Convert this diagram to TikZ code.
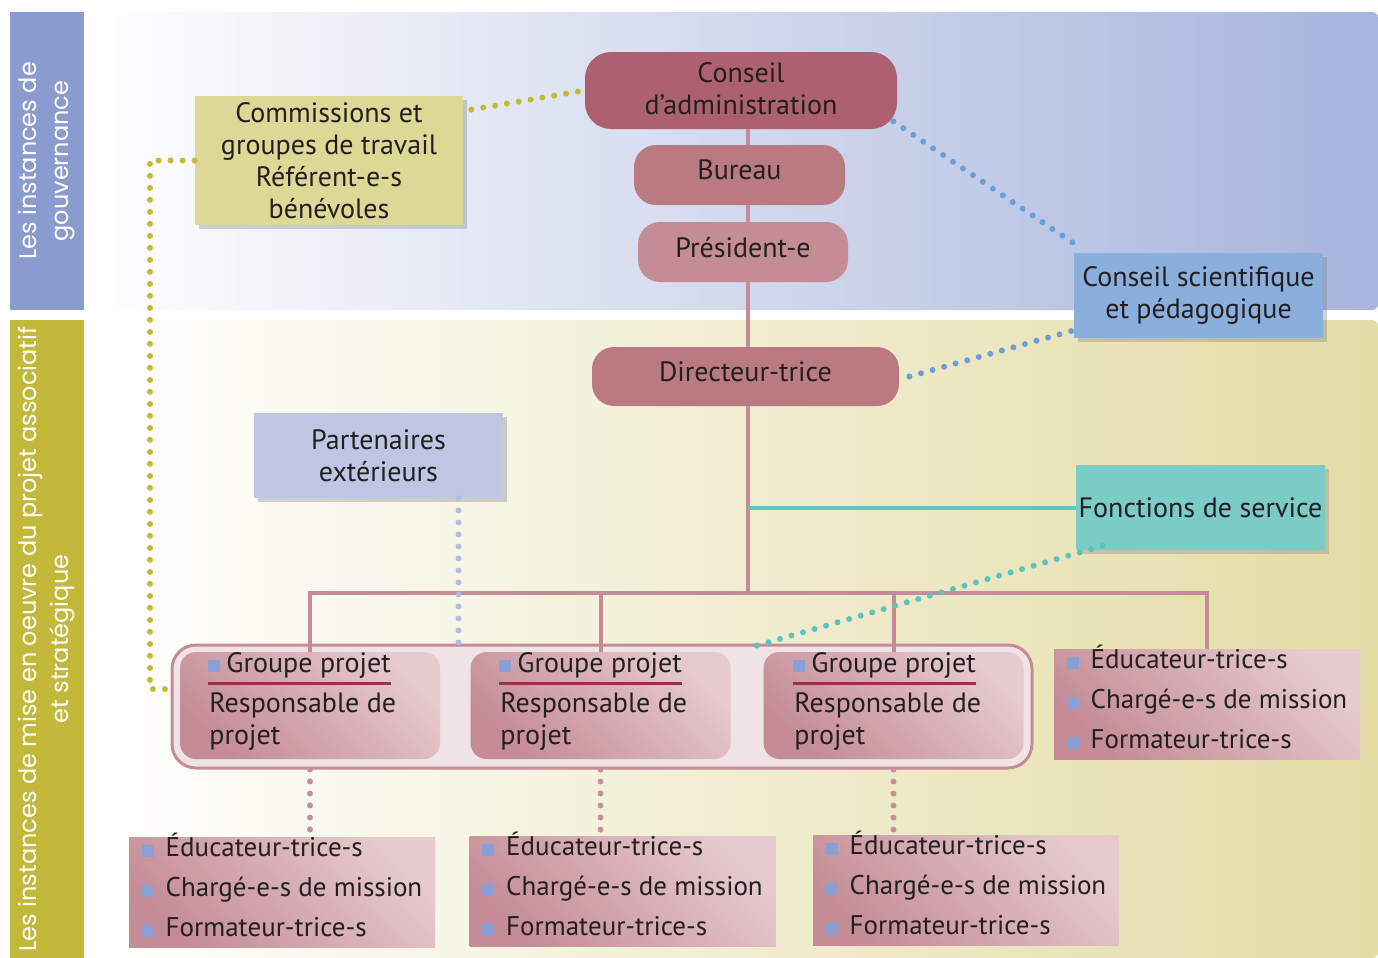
\documentclass[tikz,border=0pt]{standalone}
\usepackage{fontspec}
\setmainfont{PT Sans}
\newfontfamily\bandfont{Poppins}
\usetikzlibrary{shadows}

\definecolor{bandblue}{HTML}{8A9BCF}
\definecolor{bandolive}{HTML}{C4B83B}
\definecolor{topright}{HTML}{A7B4DC}
\definecolor{botright}{HTML}{E3DCA5}
\definecolor{cadmin}{HTML}{AD6170}
\definecolor{bureau}{HTML}{B97B81}
\definecolor{presid}{HTML}{C48C93}
\definecolor{trunk}{HTML}{C48C96}
\definecolor{commfill}{HTML}{DED897}
\definecolor{csfill}{HTML}{8AAFDC}
\definecolor{partfill}{HTML}{BEC6E4}
\definecolor{fsfill}{HTML}{7BCBC6}
\definecolor{tealline}{HTML}{5CC7BF}
\definecolor{dotolive}{HTML}{C5B933}
\definecolor{dotblue}{HTML}{6A9FD8}
\definecolor{dotteal}{HTML}{5CC4BC}
\definecolor{dotlight}{HTML}{B3BDE3}
\definecolor{dotpink}{HTML}{C98F99}
\definecolor{contfill}{HTML}{F0E3E5}
\definecolor{pinkdark}{HTML}{C48C97}
\definecolor{pinklight}{HTML}{E6CACE}
\definecolor{rulered}{HTML}{9B2F4E}
\definecolor{bulletblue}{HTML}{8A9FD4}
\definecolor{ink}{HTML}{231F20}

\newcommand{\bulsq}{\textcolor{bulletblue}{\rule{6pt}{6pt}}}
\newcommand{\bul}{\bulsq\hspace{6pt}}

\begin{document}
\begin{tikzpicture}[x=0.5pt, y=-0.5pt,
    font=\fontsize{14}{16}\selectfont, text=ink,
    band/.style={rotate=90, align=center, text=white, font=\bandfont\fontsize{12}{16}\selectfont},
    orgbox/.style={rounded corners=11pt, align=center, inner sep=0pt, text depth=5pt},
    sidebox/.style={align=center, inner sep=0pt, minimum width=124.5pt, minimum height=42.5pt,
        drop shadow={shadow xshift=2pt, shadow yshift=-2pt, opacity=0.35}},
    grp/.style={rounded corners=8pt, minimum width=130pt, minimum height=53.5pt, inner sep=0pt,
        bottom color=pinkdark, top color=pinklight, shading angle=-45},
    liste/.style={minimum width=153pt, minimum height=55pt, inner xsep=0pt, inner ysep=-3pt,
        align=left, text depth=7pt, font=\fontsize{13.5}{20}\selectfont,
        bottom color=pinkdark, top color=pinklight, shading angle=-45},
    grphead/.style={anchor=base west, inner xsep=0pt, inner ysep=2.5pt},
    grptext/.style={anchor=north west, inner sep=0pt, align=left},
    trunkline/.style={draw=trunk, line width=2pt},
    dots/.style={line width=3pt, line cap=round, dash pattern=on 0pt off 6pt}
]
    \useasboundingbox (0,0) rectangle (1378,958);

    % Background bands and panels
    \fill[bandblue] (10,12) rectangle (84,310);
    \fill[bandolive] (10,320) rectangle (84,958);
    \shade[left color=white, right color=topright, rounded corners=3pt] (90,12) rectangle (1378,310);
    \shade[left color=white, right color=botright, rounded corners=3pt] (90,320) rectangle (1378,958);
    \node[band] (gouv) at (47,161) {Les instances de\\gouvernance};
    \node[band] (mise) at (47,639) {Les instances de mise en oeuvre du projet associatif\\et stratégique};

    % Governance
    \node[orgbox, fill=cadmin, minimum width=156pt, minimum height=38.5pt, rounded corners=13pt, text depth=2pt] (ca) at (741,90.5) {Conseil\\d’administration};
    \node[orgbox, fill=bureau, minimum width=105.5pt, minimum height=30pt] (bur) at (739.5,175) {Bureau};
    \node[orgbox, fill=presid, minimum width=105pt, minimum height=30pt] (pres) at (743,252) {Président-e};
    \node[orgbox, fill=bureau, minimum width=153.5pt, minimum height=29.5pt] (dir) at (745.5,376.5) {Directeur-trice};

    % Side boxes
    \node[sidebox, fill=commfill, minimum width=134pt, minimum height=64.5pt] (comm) at (329,160.5) {Commissions et\\groupes de travail\\Référent-e-s\\bénévoles};
    \node[sidebox, fill=csfill] (cs) at (1198.5,295.5) {Conseil scientifique\\et pédagogique};
    \node[sidebox, fill=partfill] (part) at (378.5,455.5) {Partenaires\\extérieurs};
    \node[sidebox, fill=fsfill] (fs) at (1200.5,507.5) {Fonctions de service};

    % Project groups
    \node[draw=trunk, line width=1.5pt, fill=contfill, rounded corners=12pt, minimum width=430pt, minimum height=61.5pt] (cont) at (602,706.5) {};
    \node[grp] (g1) at (310,705.5) {};
    \node[grp] (g2) at (600.5,705.5) {};
    \node[grp] (g3) at (893.5,705.5) {};
    \node[grphead] (g1h) at (208,672) {\bulsq\hspace{3pt}Groupe projet};
    \node[grphead] (g2h) at (499,672) {\bulsq\hspace{3pt}Groupe projet};
    \node[grphead] (g3h) at (793,672) {\bulsq\hspace{3pt}Groupe projet};
    \draw[rulered, line width=1.2pt] (g1h.south west) -- (g1h.south east);
    \draw[rulered, line width=1.2pt] (g2h.south west) -- (g2h.south east);
    \draw[rulered, line width=1.2pt] (g3h.south west) -- (g3h.south east);
    \node[grptext] (g1t) at (209,692) {Responsable de\\projet};
    \node[grptext] (g2t) at (500,692) {Responsable de\\projet};
    \node[grptext] (g3t) at (794,692) {Responsable de\\projet};

    % Staff lists
    \node[liste] (lr) at (1207,704) {\bul Éducateur-trice-s\\\bul Chargé-e-s de mission\\\bul Formateur-trice-s};
    \node[liste] (l1) at (282,892) {\bul Éducateur-trice-s\\\bul Chargé-e-s de mission\\\bul Formateur-trice-s};
    \node[liste] (l2) at (622.5,891) {\bul Éducateur-trice-s\\\bul Chargé-e-s de mission\\\bul Formateur-trice-s};
    \node[liste] (l3) at (966,890) {\bul Éducateur-trice-s\\\bul Chargé-e-s de mission\\\bul Formateur-trice-s};

    % Hierarchy lines
    \coordinate (bar) at (748,593);
    \draw[trunkline] (ca.south -| bar) -- (bur.north -| bar);
    \draw[trunkline] (bur.south -| bar) -- (pres.north -| bar);
    \draw[trunkline] (pres.south -| bar) -- (dir.north -| bar);
    \draw[trunkline] (dir.south -| bar) -- (bar);
    \draw[trunkline] (g1.north) |- (lr.north |- bar) -- (lr.north);
    \draw[trunkline] (g2.north) -- (g2.north |- bar);
    \draw[trunkline] (g3.north) -- (g3.north |- bar);
    \draw[tealline, line width=2pt] (fs.west -| bar) -- (fs.west);

    % Dotted links
    \coordinate (olc) at (150,689);
    \draw[dots, dotolive] (comm.west) -| (olc) -- ([yshift=8.75pt]cont.west);
    \draw[dots, dotolive] ([xshift=4pt,yshift=-7pt]comm.north east) -- (ca.west);
    \draw[dots, dotblue] ([xshift=-2pt,yshift=4pt]ca.south east) -- ([xshift=4pt,yshift=2pt]cs.north west);
    \draw[dots, dotblue] ([xshift=5pt]dir.east) -- ([yshift=4pt]cs.south west);
    \draw[dots, dotteal] ([xshift=13pt,yshift=3pt]g2.north east) -- ([xshift=16pt,yshift=3pt]fs.south west);
    \draw[dots, dotlight] ([xshift=40pt]part.south) -- ([xshift=40pt]part.south |- cont.north);
    \draw[dots, dotpink] (g1.south |- cont.south) -- (g1.south |- l1.north);
    \draw[dots, dotpink] (g2.south |- cont.south) -- (g2.south |- l2.north);
    \draw[dots, dotpink] (g3.south |- cont.south) -- (g3.south |- l3.north);
\end{tikzpicture}
\end{document}
